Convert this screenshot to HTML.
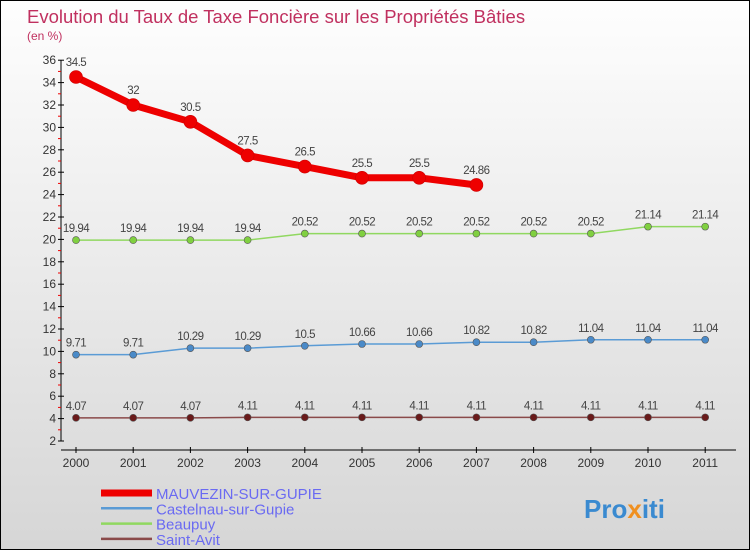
<!DOCTYPE html>
<html><head><meta charset="utf-8"><style>
body{margin:0}
#c{position:relative;width:748px;height:548px;border:1px solid #000;background:linear-gradient(#fefefe,#d6d6d6);overflow:hidden;font-family:"Liberation Sans",sans-serif}
</style></head><body>
<div id="c">
<svg id="s" width="748" height="548">
<text x="26" y="22" font-size="18.5" fill="#c0305f">Evolution du Taux de Taxe Foncière sur les Propriétés Bâties</text>
<text x="26" y="39" font-size="12" fill="#c0305f">(en %)</text>
</svg>
</div>
<script>
const years=["2000","2001","2002","2003","2004","2005","2006","2007","2008","2009","2010","2011"];
const mauvezin=[34.5,32,30.5,27.5,26.5,25.5,25.5,24.86];
const castelnau=[9.71,9.71,10.29,10.29,10.5,10.66,10.66,10.82,10.82,11.04,11.04,11.04];
const beaupuy=[19.94,19.94,19.94,19.94,20.52,20.52,20.52,20.52,20.52,20.52,21.14,21.14];
const saintAvit=[4.07,4.07,4.07,4.11,4.11,4.11,4.11,4.11,4.11,4.11,4.11,4.11];
const yTicks=[2,4,6,8,10,12,14,16,18,20,22,24,26,28,30,32,34,36];
const series=[
 {name:"MAUVEZIN-SUR-GUPIE",vals:mauvezin,color:"#ee0000",w:7,r:6.5,key:"mauvezin"},
 {name:"Castelnau-sur-Gupie",vals:castelnau,color:"#5a9bd5",w:1.5,r:3.5,key:"castelnau",dot:"#4a8ac8"},
 {name:"Beaupuy",vals:beaupuy,color:"#90d860",w:1.5,r:3.5,key:"beaupuy",dot:"#80d040"},
 {name:"Saint-Avit",vals:saintAvit,color:"#8a4a4a",w:1.5,r:3.5,key:"saint-avit",dot:"#6a1a1a"}
];
const NS="http://www.w3.org/2000/svg",svg=document.getElementById('s');
const X=i=>75+i*57.2, Y=v=>440-(v-2)*11.2;
function el(t,a,p){const e=document.createElementNS(NS,t);for(const k in a)e.setAttribute(k,a[k]);(p||svg).appendChild(e);return e;}
const ax=el('g',{});


el('line',{x1:60,y1:Y(36),x2:60,y2:Y(2),stroke:'#000'},ax);
el('line',{x1:60,y1:449,x2:735,y2:449,stroke:'#000'},ax);
yTicks.forEach(v=>{
 el('line',{x1:57,x2:63,y1:Y(v),y2:Y(v),stroke:'#000'},ax);
 if(v<36) el('line',{x1:57,x2:60,y1:Y(v+1),y2:Y(v+1),stroke:'#e00'},ax);
 const t=el('text',{x:55,y:Y(v)+4,'font-size':12,fill:'#333','text-anchor':'end'},ax);t.textContent=v;
 
 
});
years.forEach((y,i)=>{
 el('line',{x1:X(i),x2:X(i),y1:446,y2:452,stroke:'#000'},ax);
 const t=el('text',{x:X(i),y:466,'font-size':12,fill:'#333','text-anchor':'middle'},ax);t.textContent=y;
 
 
});
series.slice().reverse().forEach(s=>{
 const g=el('g',{});
 
 
 el('polyline',{points:s.vals.map((v,i)=>X(i)+','+Y(v)).join(' '),fill:'none',stroke:s.color,'stroke-width':s.w,'stroke-linejoin':'round'},g);
 s.vals.forEach((v,i)=>{
  const c=el('circle',{cx:X(i),cy:Y(v),r:s.r,fill:s.dot||s.color,stroke:s.w>2?'#c00':'#555','stroke-width':0.6},g);
  
  
  const t=el('text',{x:X(i),y:Y(v)-(s.w>2?11:8),'font-size':11.5,fill:'#444','text-anchor':'middle','letter-spacing':'-0.5'},g);
  t.textContent=String(v);
  
  
 });
});
series.forEach((s,i)=>{
 const g=el('g',{});
 
 
 const y=492+i*15.3;
 el('line',{x1:100,x2:151,y1:y,y2:y,stroke:s.color,'stroke-width':s.w>2?7:2.5},g);
 const t=el('text',{x:155,y:y+6,'font-size':15,fill:'#6a6af2'},g);t.textContent=s.name;
});
const lg=el('text',{x:583,y:517,'font-size':26,'font-weight':'bold',fill:'#3a8ad0'});


lg.innerHTML='Pro<tspan fill="#f09020">x</tspan>iti';
</script>
</body></html>
